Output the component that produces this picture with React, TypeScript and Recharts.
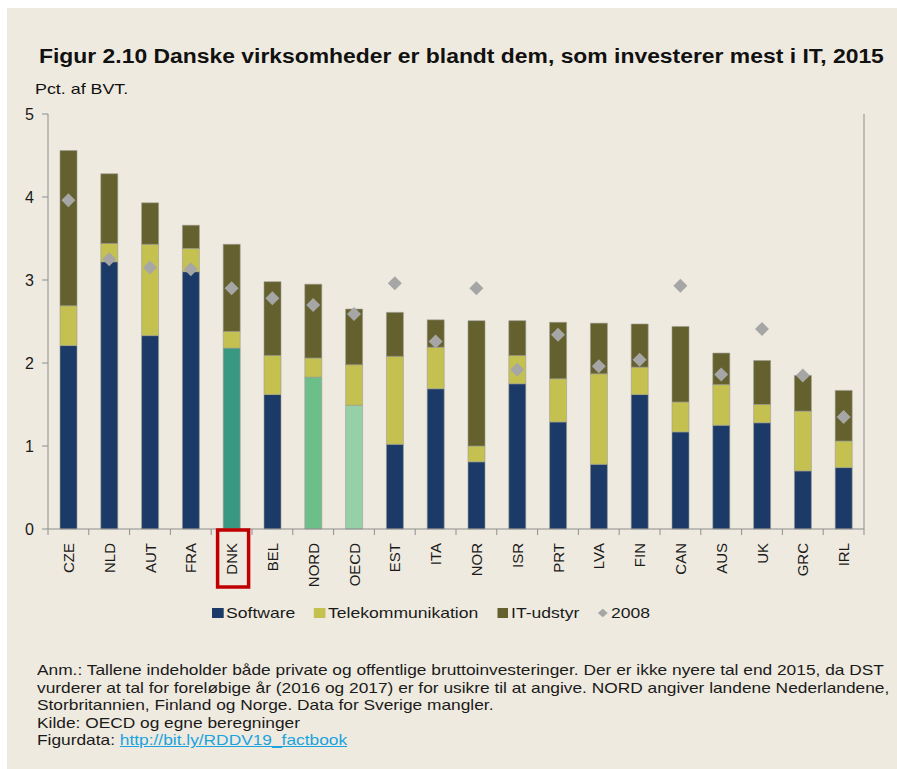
import {
  Bar,
  Cell,
  ComposedChart,
  Scatter,
  XAxis,
  YAxis,
} from "recharts";

const countries = [
  "CZE", "NLD", "AUT", "FRA", "DNK", "BEL", "NORD", "OECD", "EST", "ITA",
  "NOR", "ISR", "PRT", "LVA", "FIN", "CAN", "AUS", "UK", "GRC", "IRL",
];
const software = [
  2.21, 3.22, 2.33, 3.1, 2.18, 1.62, 1.83, 1.49, 1.02, 1.69,
  0.81, 1.75, 1.29, 0.78, 1.62, 1.17, 1.25, 1.28, 0.7, 0.74,
];
const telekom = [
  0.48, 0.22, 1.1, 0.28, 0.2, 0.47, 0.23, 0.49, 1.06, 0.5,
  0.19, 0.34, 0.52, 1.09, 0.33, 0.36, 0.49, 0.22, 0.72, 0.32,
];
const itUdstyr = [
  1.87, 0.84, 0.5, 0.28, 1.05, 0.89, 0.89, 0.67, 0.53, 0.33,
  1.51, 0.42, 0.68, 0.61, 0.52, 0.91, 0.38, 0.53, 0.43, 0.61,
];
const y2008 = [
  3.96, 3.25, 3.15, 3.13, 2.9, 2.78, 2.7, 2.59, 2.96, 2.26,
  2.9, 1.92, 2.34, 1.96, 2.04, 2.93, 1.86, 2.41, 1.85, 1.35,
];
const yTicks = [0, 1, 2, 3, 4, 5];

const data = countries.map((c, i) => ({
  land: c,
  software: software[i],
  telekom: telekom[i],
  it: itUdstyr[i],
  y2008: y2008[i],
}));

const NAVY = "#1B3A68";
const YELLOW = "#C5C150";
const OLIVE = "#64612E";
const GREY = "#A6A6A6";
const AXIS = "#8E8E8E";
const BG = "#EFEADF";
const FONT = "'Liberation Sans', Arial, sans-serif";
const STRETCH = 1.17;

const specialColors: Record<string, string> = {
  DNK: "#389882",
  NORD: "#6DBF8A",
  OECD: "#95D0A8",
};

const W = 890;
const H = 761;
const M = { top: 106, right: 0, bottom: 160, left: 0 };
const LEFT_W = 41;
const RIGHT_W = 33;
const plotW = W - LEFT_W - RIGHT_W;
const band = plotW / countries.length;

const XTick = (props: any) => {
  const { x, y, payload, index } = props;
  const name = payload.value;
  return (
    <g>
      <line x1={x - band / 2} x2={x - band / 2} y1={y} y2={y + 6} stroke={AXIS} />
      {index === countries.length - 1 && (
        <line x1={x + band / 2} x2={x + band / 2} y1={y} y2={y + 6} stroke={AXIS} />
      )}
      <text
        transform={`translate(${x},${y + 14}) rotate(-90)`}
        textAnchor="end"
        dominantBaseline="central"
        fontSize={15}
        fontFamily={FONT}
        fill="#1a1a1a"
      >
        {name}
      </text>
      {name === "DNK" && (
        <rect x={x - 14} y={y + 1} width={31} height={57} fill="none" stroke="#C00000" strokeWidth={3.5} />
      )}
    </g>
  );
};

const Diamond = (props: any) => {
  const { cx, cy } = props;
  if (cx == null || cy == null) return null;
  const r = 7;
  return (
    <polygon
      points={`${cx},${cy - r} ${cx + r},${cy} ${cx},${cy + r} ${cx - r},${cy}`}
      fill={GREY}
    />
  );
};

const legendItems = [
  { label: "Software", color: NAVY, diamond: false },
  { label: "Telekommunikation", color: YELLOW, diamond: false },
  { label: "IT-udstyr", color: OLIVE, diamond: false },
  { label: "2008", color: GREY, diamond: true },
];

const stretched = (s: number) => ({
  transform: `scaleX(${s})`,
  transformOrigin: "left top",
  whiteSpace: "nowrap" as const,
});

export default function App() {
  return (
    <div
      style={{
        position: "absolute",
        left: 7,
        top: 8,
        width: W,
        height: H,
        background: BG,
        fontFamily: FONT,
        color: "#111",
        overflow: "hidden",
      }}
    >
      <div
        style={{
          position: "absolute",
          left: 32,
          top: 37,
          fontSize: 19.5,
          fontWeight: "bold",
          ...stretched(1.174),
        }}
      >
        Figur 2.10 Danske virksomheder er blandt dem, som investerer mest i IT, 2015
      </div>
      <div style={{ position: "absolute", left: 28, top: 72, fontSize: 15, ...stretched(1.19) }}>
        Pct. af BVT.
      </div>

      <ComposedChart width={W} height={H} data={data} margin={M} barSize={17}>
        <XAxis
          dataKey="land"
          xAxisId="x"
          axisLine={{ stroke: AXIS }}
          tickLine={false}
          tickSize={0}
          tickMargin={0}
          interval={0}
          tick={<XTick />}
          height={80}
        />
        <YAxis
          yAxisId="l"
          orientation="left"
          width={LEFT_W}
          domain={[0, 5]}
          ticks={yTicks}
          axisLine={{ stroke: AXIS }}
          tickLine={{ stroke: AXIS }}
          tickMargin={8}
          tick={{ fontSize: 16, fill: "#1a1a1a", fontFamily: FONT }}
        />
        <YAxis
          yAxisId="r"
          orientation="right"
          width={RIGHT_W}
          domain={[0, 5]}
          ticks={yTicks}
          axisLine={{ stroke: AXIS }}
          tickLine={{ stroke: AXIS }}
          tickMargin={3}
          tick={{ fontSize: 16, fill: "#1a1a1a", fontFamily: FONT }}
        />
        <Bar dataKey="software" stackId="a" xAxisId="x" yAxisId="l" fill={NAVY} stroke="#9c9c94" strokeWidth={0.6} isAnimationActive={false}>
          {data.map((d) => (
            <Cell key={d.land} fill={specialColors[d.land] ?? NAVY} />
          ))}
        </Bar>
        <Bar dataKey="telekom" stackId="a" xAxisId="x" yAxisId="l" fill={YELLOW} stroke="#9c9c94" strokeWidth={0.6} isAnimationActive={false} />
        <Bar dataKey="it" stackId="a" xAxisId="x" yAxisId="l" fill={OLIVE} stroke="#9c9c94" strokeWidth={0.6} isAnimationActive={false} />
        <Scatter dataKey="y2008" xAxisId="x" yAxisId="l" shape={<Diamond />} isAnimationActive={false} />
      </ComposedChart>

      <div
        style={{
          position: "absolute",
          left: 205,
          top: 596,
          display: "flex",
          alignItems: "center",
          fontSize: 15,
          color: "#1a1a1a",
          ...stretched(STRETCH),
        }}
      >
        {legendItems.map((it) => (
          <div key={it.label} style={{ display: "flex", alignItems: "center", marginRight: 16 }}>
            {it.diamond ? (
              <span
                style={{
                  width: 6,
                  height: 6,
                  background: it.color,
                  transform: "rotate(45deg)",
                  margin: "0 4px 0 1px",
                  display: "inline-block",
                }}
              />
            ) : (
              <span style={{ width: 9.5, height: 10, background: it.color, marginRight: 2.5, display: "inline-block" }} />
            )}
            <span>{it.label}</span>
          </div>
        ))}
      </div>

      <div
        style={{
          position: "absolute",
          left: 30,
          top: 653,
          fontSize: 15,
          lineHeight: "17.6px",
          color: "#1a1a1a",
          ...stretched(1.155),
        }}
      >
        Anm.: Tallene indeholder både private og offentlige bruttoinvesteringer. Der er ikke nyere tal end 2015, da DST
        <br />
        vurderer at tal for foreløbige år (2016 og 2017) er for usikre til at angive. NORD angiver landene Nederlandene,
        <br />
        Storbritannien, Finland og Norge. Data for Sverige mangler.
        <br />
        Kilde: OECD og egne beregninger
        <br />
        Figurdata:{" "}
        <span style={{ color: "#1AA3E0", textDecoration: "underline" }}>http://bit.ly/RDDV19_factbook</span>
      </div>
    </div>
  );
}
